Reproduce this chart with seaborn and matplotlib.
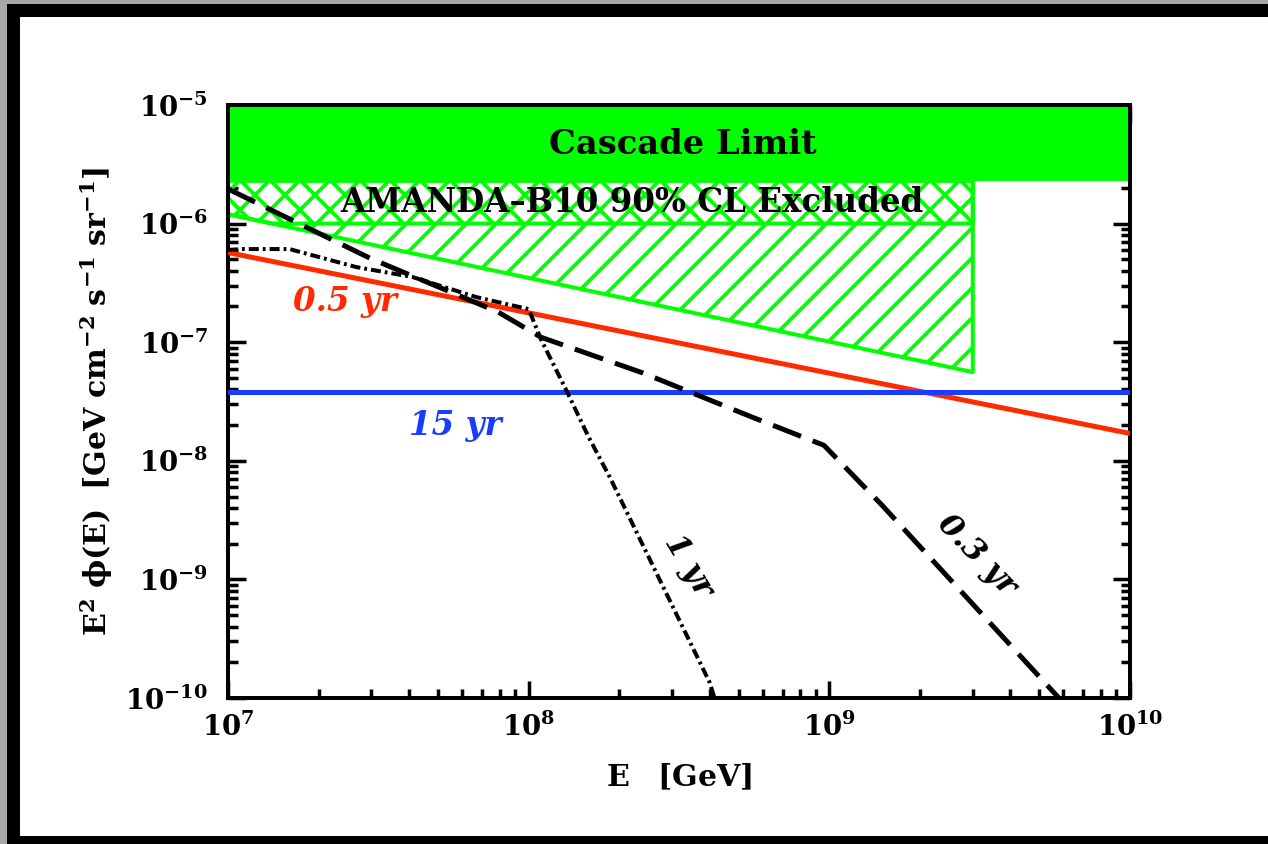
import numpy as np
import pandas as pd
import seaborn as sns
import matplotlib.pyplot as plt
from matplotlib.patches import Rectangle

sns.set_style("ticks")
plt.rcParams['font.family'] = ['DejaVu Serif']
plt.rcParams['mathtext.fontset'] = 'dejavuserif'
plt.rcParams['text.color'] = 'black'
plt.rcParams['axes.labelcolor'] = 'black'
plt.rcParams['hatch.color'] = '#00ff00'
plt.rcParams['hatch.linewidth'] = 1.5

GREEN = '#00ff00'

# plot range
e_lim = [1e7, 1e10]
flux_lim = [1e-10, 1e-5]

# cascade limit (solid band over the whole range)
cascade_e = [1e7, 1e10]
cascade_lo = [2.3e-6, 2.3e-6]
cascade_hi = [1e-5, 1e-5]

# AMANDA-B10 90% CL excluded region
amanda_e = [1e7, 3e9]
amanda_top = [2.3e-6, 2.3e-6]
amanda_bottom = [1.2e-6, 5.6e-8]
# upper (cross hatched) part, down to 1e-6
amanda_x_e = [1e7, 1.41e7, 3e9]
amanda_x_top = [2.3e-6, 2.3e-6, 2.3e-6]
amanda_x_bottom = [1.2e-6, 1e-6, 1e-6]

# 0.5 yr (red)
red_e = [1e7, 1e10]
red_flux = [5.7e-7, 1.7e-8]

# 15 yr (blue)
blue_e = [1e7, 1e10]
blue_flux = [3.8e-8, 3.8e-8]

# 0.3 yr (dashed)
dash_e = [1e7, 2.97e7, 7.9e7, 1.1e8, 2.4e8, 5.5e8, 9.6e8, 1.5e9, 5.8e9]
dash_flux = [1.96e-6, 5.1e-7, 1.8e-7, 1.1e-7, 5.5e-8, 2.35e-8, 1.35e-8, 4.2e-9, 1e-10]

# 1 yr (dash-dot)
dd_e = [1e7, 1.12e7, 1.6e7, 2.67e7, 4.1e7, 6.7e7, 1.0e8, 1.1e8, 1.33e8, 1.58e8, 1.86e8, 4.0e8, 4.15e8]
dd_flux = [6.0e-7, 6.1e-7, 6.1e-7, 4.3e-7, 3.55e-7, 2.4e-7, 1.9e-7, 1.05e-7, 4.0e-8, 1.6e-8, 7.3e-9, 1.35e-10, 1e-10]

x_ticks = [1e7, 1e8, 1e9, 1e10]
x_labels = [r'$\mathbf{10^{7}}$', r'$\mathbf{10^{8}}$', r'$\mathbf{10^{9}}$', r'$\mathbf{10^{10}}$']
y_ticks = [1e-10, 1e-9, 1e-8, 1e-7, 1e-6, 1e-5]
y_labels = [r'$\mathbf{10^{-10}}$', r'$\mathbf{10^{-9}}$', r'$\mathbf{10^{-8}}$',
            r'$\mathbf{10^{-7}}$', r'$\mathbf{10^{-6}}$', r'$\mathbf{10^{-5}}$']

fig = plt.figure(figsize=(1268 / 180, 844 / 180), dpi=180, facecolor='#a8a8a8')
# black frame with white page inside
fig.patches.append(Rectangle((7 / 1268, 0), 1.0, 1 - 4 / 844, transform=fig.transFigure,
                             facecolor='black', edgecolor='none', zorder=-10))
fig.patches.append(Rectangle((20 / 1268, 8 / 844), 1.0, 1 - 25 / 844, transform=fig.transFigure,
                             facecolor='white', edgecolor='none', zorder=-9))

ax = fig.add_axes([228 / 1268, 1 - 698 / 844, (1130 - 228) / 1268, (698 - 105) / 844])
ax.set_facecolor('none')
ax.set_xscale('log')
ax.set_yscale('log')

ax.fill_between(cascade_e, cascade_lo, cascade_hi, color=GREEN, linewidth=0, zorder=1)
ax.fill_between(amanda_e, amanda_bottom, amanda_top, facecolor='none', edgecolor=GREEN,
                hatch='//', linewidth=1.6, zorder=1)
ax.fill_between(amanda_x_e, amanda_x_bottom, amanda_x_top, facecolor='none', edgecolor=GREEN,
                hatch='\\\\', linewidth=1.6, zorder=1)

sns.lineplot(x=red_e, y=red_flux, ax=ax, color='#ff2a00', linewidth=2.0, sort=False, estimator=None, zorder=3)
sns.lineplot(x=blue_e, y=blue_flux, ax=ax, color='#1a3cff', linewidth=2.0, sort=False, estimator=None, zorder=3)
sns.lineplot(x=dash_e, y=dash_flux, ax=ax, color='black', linewidth=2.0, sort=False, estimator=None,
             linestyle=(0, (6, 2.5)), zorder=3)
sns.lineplot(x=dd_e, y=dd_flux, ax=ax, color='black', linewidth=1.6, sort=False, estimator=None,
             linestyle=(0, (2.5, 1, 0.7, 1)), zorder=3)

ax.set_xlim(e_lim)
ax.set_ylim(flux_lim)
ax.set_xticks(x_ticks)
ax.set_xticklabels(x_labels)
ax.set_yticks(y_ticks)
ax.set_yticklabels(y_labels)

for s in ax.spines.values():
    s.set_linewidth(1.6)
    s.set_color('black')
ax.tick_params(which='both', direction='in', top=True, right=True, colors='black')
ax.tick_params(which='major', length=7, width=1.4, labelsize=11, pad=6)
ax.tick_params(which='minor', length=3.8, width=1.4)
ax.tick_params(axis='y', which='major', pad=8)

ax.set_xlabel(r'$\mathbf{E\ \ \ [GeV]}$', fontsize=12, labelpad=8)
ax.set_ylabel(r'$\mathbf{E^2\ \phi(E)\ \ [GeV\ cm^{-2}\ s^{-1}\ sr^{-1}]}$', fontsize=12, labelpad=4)

ax.text(3.25e8, 4.6e-6, 'Cascade Limit', ha='center', va='center', fontsize=13.5, fontweight='bold')
ax.text(2.2e8, 1.5e-6, 'AMANDA\u2013B10 90% CL Excluded', ha='center', va='center',
        fontsize=13, fontweight='bold', zorder=4)
ax.text(2.45e7, 2.2e-7, '0.5 yr', ha='center', va='center', fontsize=13, fontweight='bold',
        style='italic', color='#ff2a00')
ax.text(5.7e7, 2.0e-8, '15 yr', ha='center', va='center', fontsize=13, fontweight='bold',
        style='italic', color='#1a3cff')
ax.text(3.4e8, 1.3e-9, '1 yr', ha='center', va='center', fontsize=12.5, fontweight='bold',
        style='italic', rotation=-59, rotation_mode='anchor')
ax.text(3.1e9, 1.6e-9, '0.3 yr', ha='center', va='center', fontsize=12.5, fontweight='bold',
        style='italic', rotation=-46, rotation_mode='anchor')

fig.savefig('out.png', dpi=180, facecolor=fig.get_facecolor())
